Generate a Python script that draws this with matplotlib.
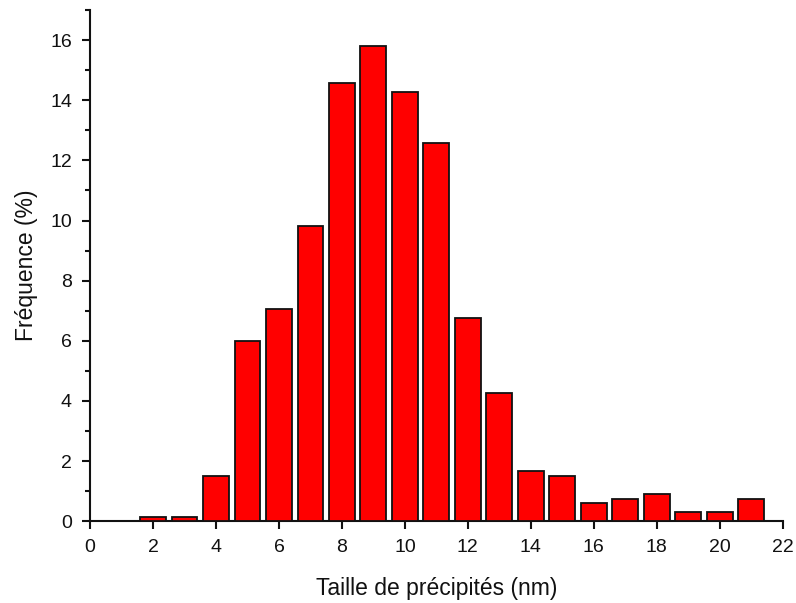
import numpy as np
import matplotlib
matplotlib.use('Agg')
import matplotlib.pyplot as plt
from matplotlib.ticker import MultipleLocator

# size classes (nm) and frequencies (%)
sizes = [2, 3, 4, 5, 6, 7, 8, 9, 10, 11, 12, 13, 14, 15, 16, 17, 18, 19, 20, 21]
freq = [0.15, 0.15, 1.52, 5.98, 7.05, 9.82, 14.58, 15.81, 14.26, 12.57,
        6.75, 4.28, 1.67, 1.52, 0.61, 0.75, 0.91, 0.30, 0.30, 0.75]

plt.rcParams['font.family'] = ['Liberation Sans', 'DejaVu Sans']

fig = plt.figure(figsize=(7.96, 6.03), dpi=100)
ax = fig.add_axes([0.1131, 0.1355, 0.8702, 0.8479])

ax.bar(sizes, freq, width=0.82, color='#ff0000', edgecolor='#111111', linewidth=1.3, zorder=3)

ax.set_xlim(0, 22)
ax.set_ylim(0, 17)
ax.xaxis.set_major_locator(MultipleLocator(2))
ax.yaxis.set_major_locator(MultipleLocator(2))
ax.yaxis.set_minor_locator(MultipleLocator(1))

for s in ['top', 'right']:
    ax.spines[s].set_visible(False)
for s in ['left', 'bottom']:
    ax.spines[s].set_linewidth(1.5)
    ax.spines[s].set_color('#111111')

ax.tick_params(axis='both', which='major', direction='out', length=6, width=1.5,
               labelsize=14, colors='#111111', pad=7)
ax.tick_params(axis='y', which='minor', direction='out', length=3.5, width=1.5, colors='#111111')

ax.set_xlabel('Taille de précipités (nm)', fontsize=16.5, color='#111111', labelpad=15)
ax.set_ylabel('Fréquence (%)', fontsize=16.5, color='#111111', labelpad=9)

fig.savefig('out.png', dpi=100)
